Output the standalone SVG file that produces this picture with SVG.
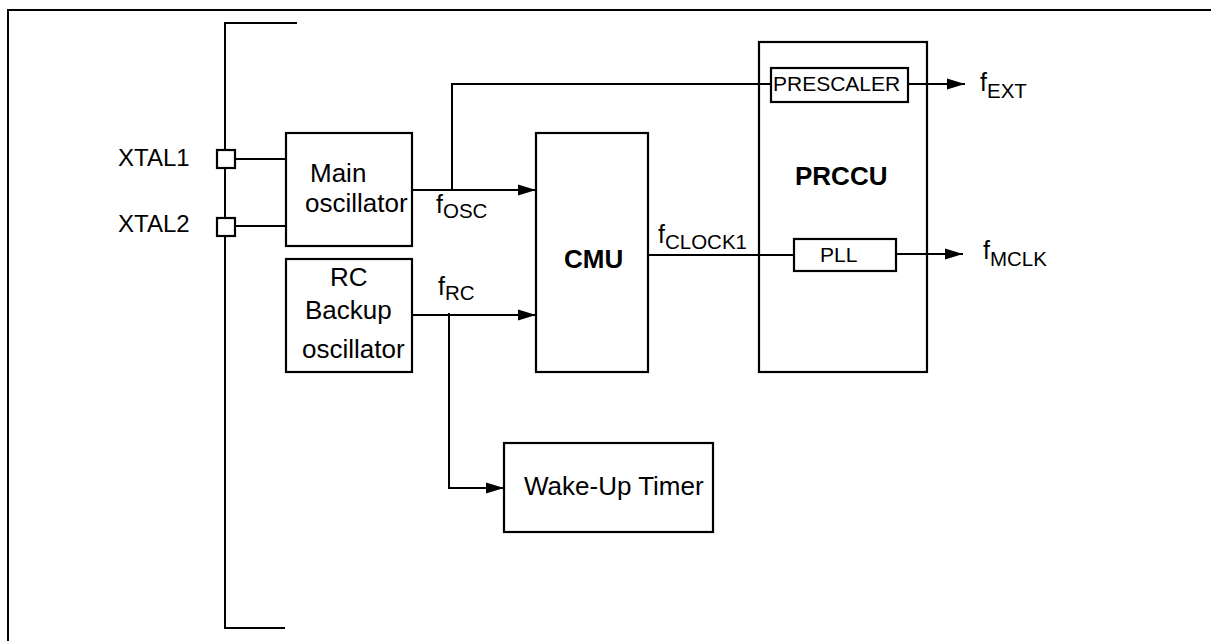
<svg xmlns="http://www.w3.org/2000/svg" width="1211" height="641" viewBox="0 0 1211 641">
  <style>
    .ln { fill: none; stroke: #000; stroke-width: 2; }
    .box { fill: none; stroke: #000; stroke-width: 2.2; }
    .t { font-family: "Liberation Sans", Arial, sans-serif; fill: #000; }
    .lbl { font-size: 26px; }
    .pin { font-size: 24px; }
    .b { font-weight: bold; }
    .sm { font-size: 21px; }
    .f { font-size: 25px; }
    .sub { font-size: 20.5px; }
  </style>
  <defs>
    <marker id="arr" markerUnits="userSpaceOnUse" markerWidth="18" markerHeight="12" refX="18" refY="6" orient="auto">
      <path d="M0,0.5 L18,6 L0,11.5 z" fill="#000"/>
    </marker>
  </defs>
  <rect width="1211" height="641" fill="#fff"/>

  <!-- frame -->
  <g id="frame">
    <path class="ln" d="M8,641 V10 H1211" stroke-width="2.2"/>
  </g>

  <!-- pins -->
  <g id="xtal1">
    <rect class="box" x="217" y="150" width="18" height="18"/>
    <text class="t pin" x="118" y="166">XTAL1</text>
  </g>
  <g id="xtal2">
    <rect class="box" x="217" y="218" width="18" height="18"/>
    <text class="t pin" x="118" y="232">XTAL2</text>
  </g>

  <g id="main-osc">
    <rect class="box" x="286" y="133" width="126" height="113"/>
    <text class="t lbl" x="310" y="182">Main</text>
    <text class="t lbl" x="305" y="212">oscillator</text>
  </g>

  <g id="rc-osc">
    <rect class="box" x="286" y="259" width="126" height="113"/>
    <text class="t lbl" x="330" y="286">RC</text>
    <text class="t lbl" x="305" y="319">Backup</text>
    <text class="t lbl" x="302" y="358">oscillator</text>
  </g>

  <g id="cmu">
    <rect class="box" x="536" y="133" width="112" height="239"/>
    <text class="t lbl b" x="564" y="268">CMU</text>
  </g>

  <g id="prccu">
    <rect class="box" x="759" y="42" width="168" height="330"/>
    <text class="t lbl b" x="795" y="185">PRCCU</text>
  </g>

  <g id="prescaler">
    <rect class="box" x="771" y="68" width="137" height="34"/>
    <text class="t sm" x="773" y="91">PRESCALER</text>
  </g>

  <g id="pll">
    <rect class="box" x="794" y="239" width="102" height="32"/>
    <text class="t sm" x="820" y="262">PLL</text>
  </g>

  <g id="wakeup">
    <rect class="box" x="504" y="443" width="209" height="89"/>
    <text class="t lbl" x="524" y="495">Wake-Up Timer</text>
  </g>

  <!-- connectors -->
  <g id="connectors">
    <path class="ln" d="M297,23 H225 V150 M225,168 V218 M225,236 V628 H285"/>
    <path class="ln" d="M235,159 H286"/>
    <path class="ln" d="M235,226 H286"/>
    <path class="ln" d="M412,190 H536" marker-end="url(#arr)"/>
    <path class="ln" d="M452,190 V84 H771"/>
    <path class="ln" d="M412,315 H536" marker-end="url(#arr)"/>
    <path class="ln" d="M449,313 V488 H504" marker-end="url(#arr)"/>
    <path class="ln" d="M648,255 H794"/>
    <path class="ln" d="M908,84 H965" marker-end="url(#arr)"/>
    <path class="ln" d="M896,254 H963" marker-end="url(#arr)"/>
  </g>

  <!-- signal labels -->
  <g id="labels">
    <text class="t f" x="436" y="213">f<tspan class="sub" dy="5">OSC</tspan></text>
    <text class="t f" x="438" y="295">f<tspan class="sub" dy="5">RC</tspan></text>
    <text class="t f" x="658" y="243">f<tspan class="sub" dy="6">CLOCK1</tspan></text>
    <text class="t f" x="980" y="91">f<tspan class="sub" dy="7">EXT</tspan></text>
    <text class="t f" x="983" y="259">f<tspan class="sub" dy="7">MCLK</tspan></text>
  </g>
</svg>
